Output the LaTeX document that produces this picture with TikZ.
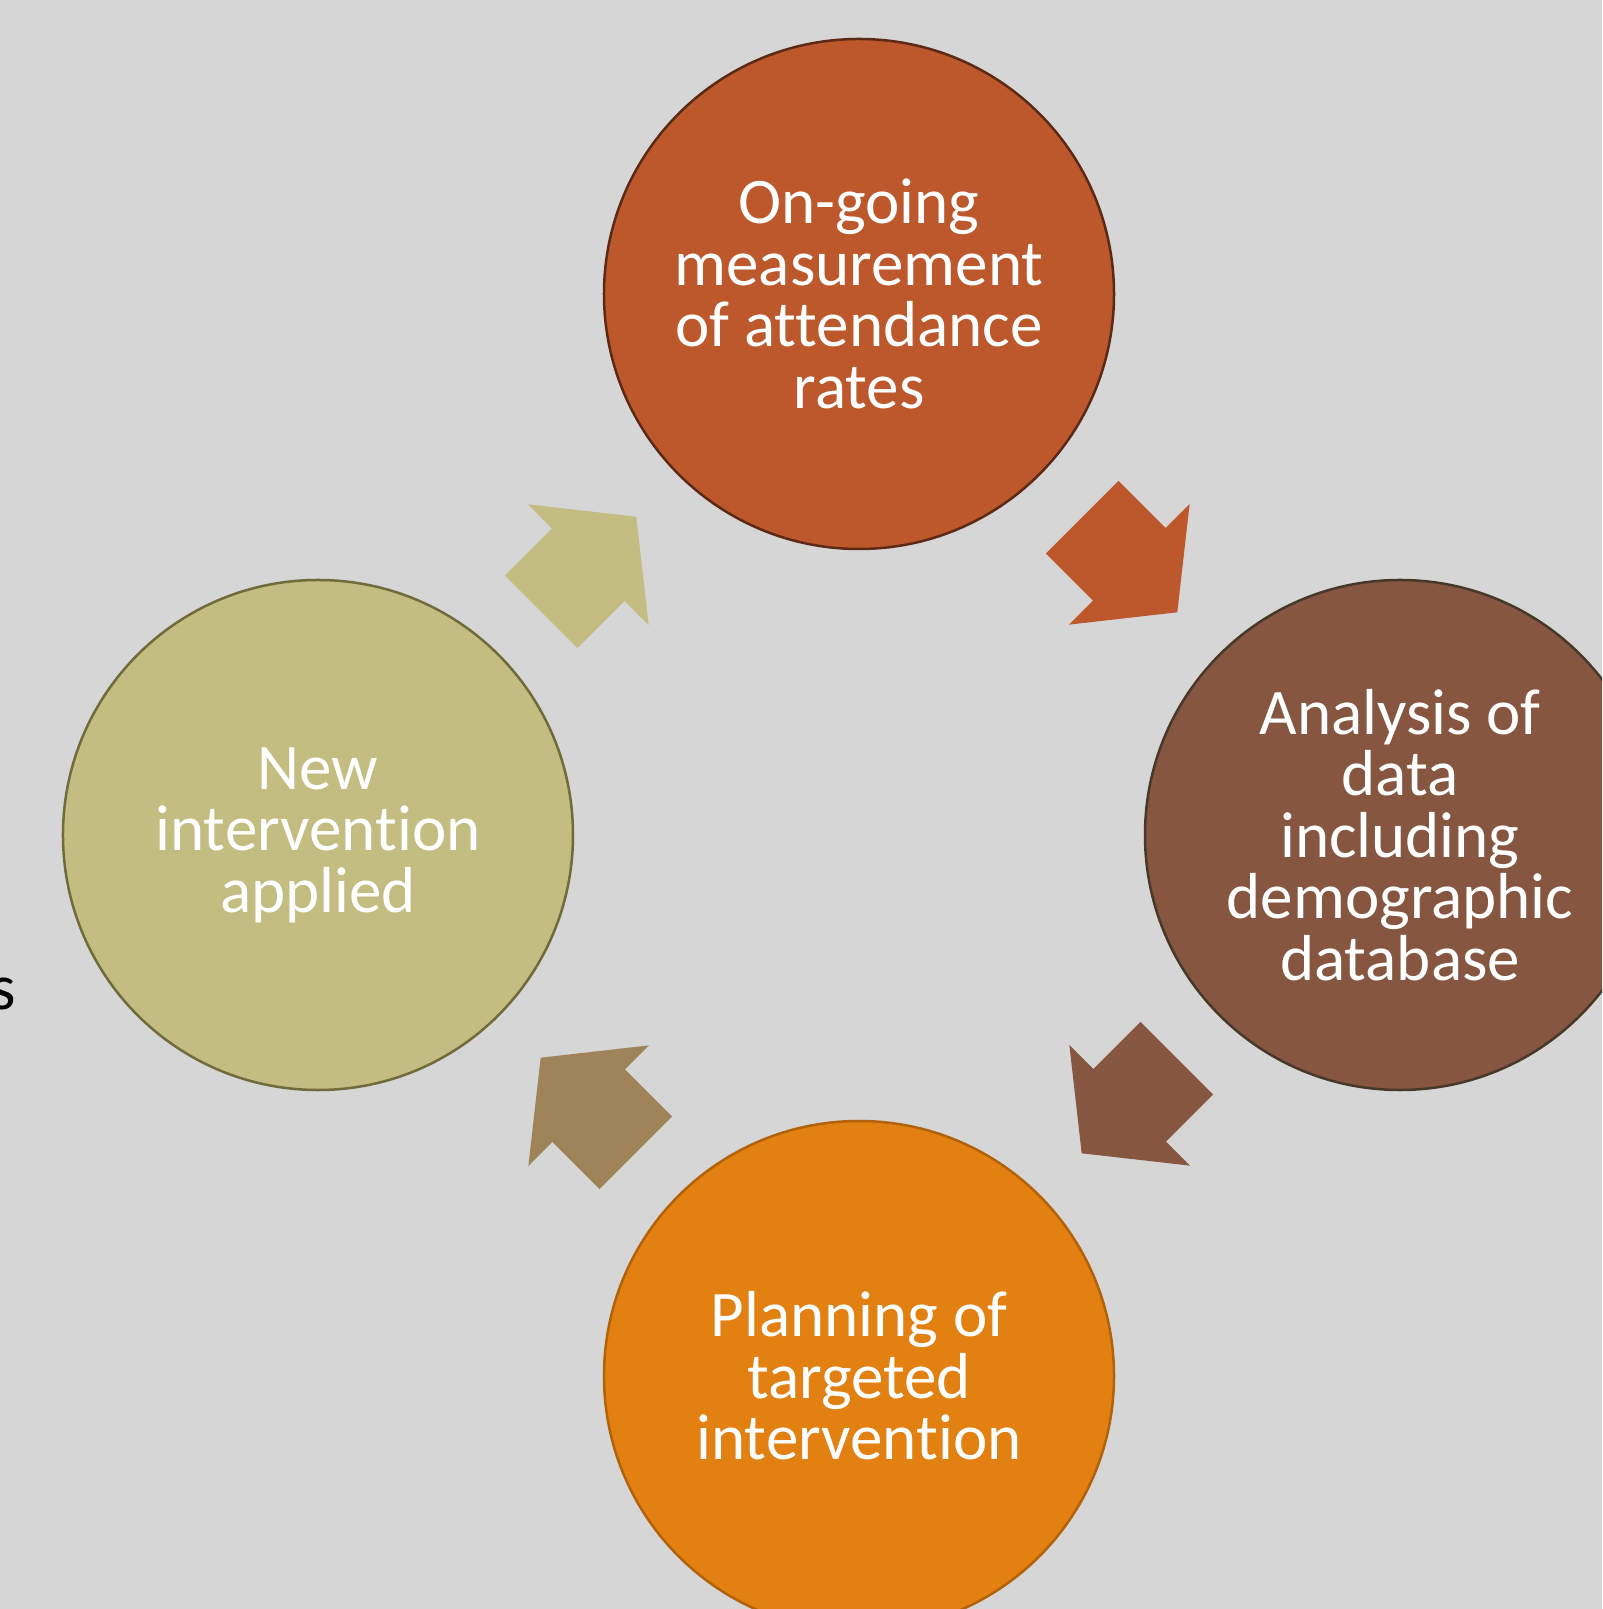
\documentclass[tikz,border=0pt]{standalone}
\usepackage{fontspec}
\setmainfont{Carlito}[Ligatures=NoCommon]
\definecolor{paper}  {HTML}{D6D6D6}
\definecolor{rust}   {HTML}{BC582C}
\definecolor{rustln} {HTML}{5C2A14}
\definecolor{bark}   {HTML}{865641}
\definecolor{barkln} {HTML}{46392A}
\definecolor{amber}  {HTML}{E28012}
\definecolor{amberln}{HTML}{B2620A}
\definecolor{khaki}  {HTML}{C3BD82}
\definecolor{khakiln}{HTML}{6F6B3A}
\definecolor{sand}   {HTML}{9E8458}
\usetikzlibrary{shapes.arrows, calc}

\begin{document}
\begin{tikzpicture}[
  x=0.2mm, y=0.2mm,
  stage/.style={circle, minimum size=102mm, inner sep=0pt, line width=0.5mm,
                align=center, text=white, font=\fontsize{37}{35}\selectfont},
  turn/.style ={single arrow, draw=none, inner sep=0pt, anchor=tail,
                single arrow head extend=6.8mm, single arrow tip angle=103,
                minimum height=26.9mm},
]
  % --- page and crop ---------------------------------------------
  \useasboundingbox (-859,-774) rectangle (743,835);
  \clip (-859,-774) rectangle (743,835);
  \fill[paper] (-859,-774) rectangle (743,835);

  % --- stray word end at the left margin -------------------------
  \node[font=\fontsize{37}{35}\selectfont, text=black, inner sep=0pt,
        anchor=base east] (tail) at (-843,-175) {s};

  % --- the four stages of the cycle ------------------------------
  \coordinate (hub) at (0,0);
  \node[stage, fill=rust,  draw=rustln]  (measure)  at (0,541)
    {On-going\\measurement\\of attendance\\rates};
  \node[stage, fill=bark,  draw=barkln]  (analysis) at (541,0)
    {Analysis of\\data\\including\\demographic\\database};
  \node[stage, fill=amber, draw=amberln] (planning) at (0,-541)
    {Planning of\\targeted\\intervention};
  \node[stage, fill=khaki, draw=khakiln] (applied)  at (-541,0)
    {New\\intervention\\applied};

  % --- block arrows centred half way between neighbours ----------
  % (the strut sets the shaft width; tail sits half a length back)
  \foreach \a/\b/\c/\r in {measure/analysis/rust/-45,
                           analysis/planning/bark/-135,
                           planning/applied/sand/135,
                           applied/measure/khaki/45}
    \node[turn, fill=\c, rotate=\r] (to-\b)
      at ($(\a)!0.5!(\b) + (\r+180:67.25)$) {\rule{0pt}{20.4mm}};
\end{tikzpicture}
\end{document}
